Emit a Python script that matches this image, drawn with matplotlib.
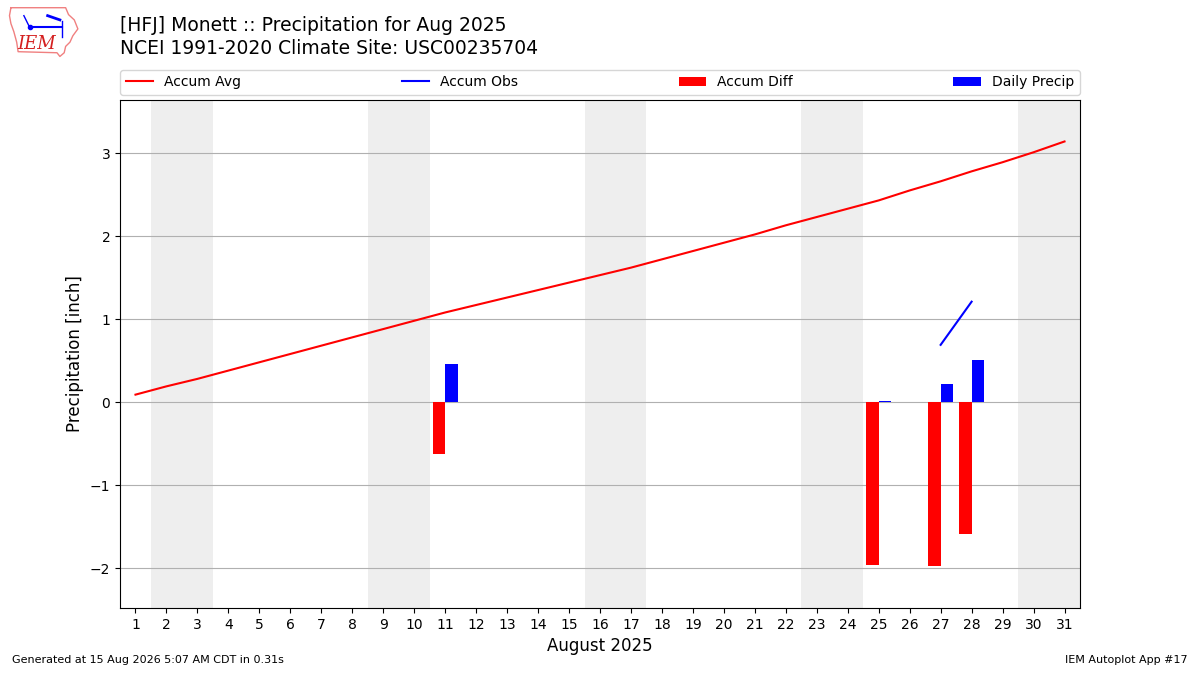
import matplotlib
matplotlib.use("Agg")
import matplotlib.pyplot as plt
import numpy as np

days = list(range(1, 32))
accum_avg = [0.09, 0.19, 0.28, 0.38, 0.48, 0.58, 0.68, 0.78, 0.88, 0.98,
             1.08, 1.17, 1.26, 1.35, 1.44, 1.53, 1.62, 1.72, 1.82, 1.92,
             2.02, 2.13, 2.23, 2.33, 2.43, 2.55, 2.66, 2.78, 2.89, 3.01, 3.14]
obs_days = [11, 25, 27, 28]
daily_precip = [0.46, 0.01, 0.22, 0.51]
accum_diff = [-0.62, -1.96, -1.98, -1.59]
line_days = [27, 28]
accum_obs = [0.69, 1.21]
weekend_starts = [2, 9, 16, 23, 30]

fig = plt.figure(figsize=(12, 6.75), dpi=100)
ax = fig.add_axes([0.1, 0.0993, 0.8, 0.7526])

for d in weekend_starts:
    ax.axvspan(d - 0.5, d + 1.5, color="#eeeeee", zorder=0, lw=0)

ax.plot(days, accum_avg, color="red", lw=1.5, label="Accum Avg", zorder=3)
ax.plot(line_days, accum_obs, color="blue", lw=1.5, label="Accum Obs", zorder=3)
ax.bar(np.array(obs_days) - 0.2, accum_diff, width=0.4, color="red",
       label="Accum Diff", zorder=3)
ax.bar(np.array(obs_days) + 0.2, daily_precip, width=0.4, color="blue",
       label="Daily Precip", zorder=3)

ax.set_xlim(0.5, 31.5)
ax.set_ylim(-2.48, 3.64)
ax.set_xticks(days)
ax.set_yticks([-2, -1, 0, 1, 2, 3])
ax.set_yticklabels(["\u22122", "\u22121", "0", "1", "2", "3"])
ax.grid(axis="y", color="#b0b0b0", lw=0.8, zorder=1)
ax.set_axisbelow(True)
ax.tick_params(labelsize=10)
ax.set_xlabel("August 2025", fontsize=12)
ax.set_ylabel("Precipitation [inch]", fontsize=12)

ax.legend(loc="lower left", bbox_to_anchor=(0, 1.01, 1, 0.05), mode="expand",
          ncol=4, fontsize=10, borderaxespad=0, handlelength=2)

fig.text(0.1, 0.962, "[HFJ] Monett :: Precipitation for Aug 2025", fontsize=13.5,
         va="center", ha="left")
fig.text(0.1, 0.928, "NCEI 1991-2020 Climate Site: USC00235704", fontsize=13.5,
         va="center", ha="left")

# simple IEM logo stand-in
lax = fig.add_axes([0.0067, 0.914, 0.06, 0.0785])
lax.set_xlim(0, 1)
lax.set_ylim(0, 1)
lax.axis("off")
outline_x = [0.04, 0.80, 0.84, 0.92, 0.97, 0.90, 0.86, 0.80, 0.78, 0.72,
             0.68, 0.14, 0.12, 0.08, 0.04, 0.02, 0.04]
outline_y = [0.95, 0.95, 0.82, 0.72, 0.55, 0.42, 0.30, 0.22, 0.10, 0.03,
             0.10, 0.12, 0.30, 0.50, 0.65, 0.80, 0.95]
lax.plot(outline_x, outline_y, color="#f08080", lw=1.0)
lax.plot([0.30, 0.75], [0.58, 0.58], color="blue", lw=1.5)
lax.plot([0.30], [0.58], "o", color="blue", ms=3)
lax.plot([0.75, 0.75], [0.70, 0.40], color="blue", lw=1.0)
lax.plot([0.55, 0.72], [0.80, 0.72], color="blue", lw=2.0)
lax.plot([0.30, 0.22], [0.58, 0.80], color="blue", lw=1.0)
lax.text(0.40, 0.27, "IEM", fontsize=13, color="#d42020", family="DejaVu Serif",
         style="italic", va="center", ha="center")

fig.text(0.01, 0.015, "Generated at 15 Aug 2026 5:07 AM CDT in 0.31s", fontsize=8,
         ha="left", va="bottom")
fig.text(0.99, 0.015, "IEM Autoplot App #17", fontsize=8, ha="right", va="bottom")

fig.savefig("out.png", dpi=100)
